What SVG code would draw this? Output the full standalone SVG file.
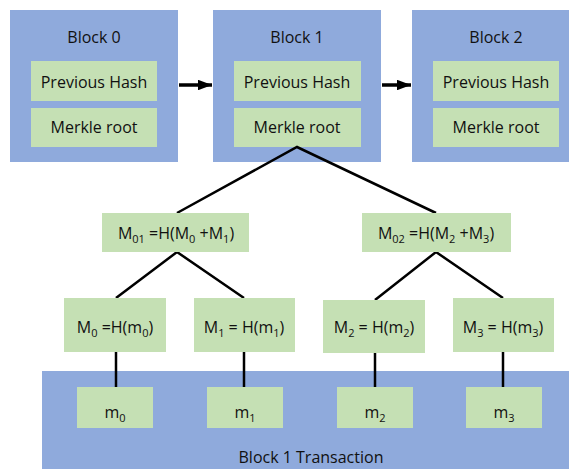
<svg xmlns="http://www.w3.org/2000/svg" width="569" height="469" viewBox="0 0 569 469">
  <style>
    .block { fill: #8FAADC; }
    .cell { fill: #C5E0B4; }
    text { font-family: "Open Sans", "Noto Sans", sans-serif; font-size: 16px; fill: #111; text-anchor: middle; }
    .sub { font-size: 11px; }
    .wire { stroke: #000; stroke-width: 2.5; fill: none; }
    .link { stroke: #000; stroke-width: 3.5; fill: none; }
  </style>
  <defs>
    <marker id="head" markerWidth="4" markerHeight="3" refX="4" refY="1.5" orient="auto" markerUnits="strokeWidth">
      <path d="M0,0 L4,1.5 L0,3 Z" fill="#000"/>
    </marker>
  </defs>
  <rect width="569" height="469" fill="#fff"/>

  <g id="block0">
    <rect class="block" x="10" y="10" width="168" height="152"/>
    <text x="94" y="43">Block 0</text>
    <rect class="cell" x="31" y="61" width="126" height="40"/>
    <text x="94" y="88">Previous Hash</text>
    <rect class="cell" x="31" y="108" width="126" height="39"/>
    <text x="94" y="133">Merkle root</text>
  </g>

  <g id="block1">
    <rect class="block" x="213" y="10" width="168" height="152"/>
    <text x="297" y="43">Block 1</text>
    <rect class="cell" x="234" y="61" width="127" height="40"/>
    <text x="297" y="88">Previous Hash</text>
    <rect class="cell" x="234" y="108" width="127" height="39"/>
    <text x="297" y="133">Merkle root</text>
  </g>

  <g id="block2">
    <rect class="block" x="412" y="10" width="157" height="152"/>
    <text x="496" y="43">Block 2</text>
    <rect class="cell" x="433" y="61" width="126" height="40"/>
    <text x="496" y="88">Previous Hash</text>
    <rect class="cell" x="433" y="108" width="126" height="39"/>
    <text x="496" y="133">Merkle root</text>
  </g>

  <g id="transactions">
    <rect class="block" x="42" y="371" width="527" height="98"/>
    <text x="311" y="463">Block 1 Transaction</text>
  </g>

  <g id="connectors">
    <line class="link" x1="179" y1="85" x2="212" y2="85" marker-end="url(#head)"/>
    <line class="link" x1="382" y1="85" x2="411" y2="85" marker-end="url(#head)"/>
    <polyline class="wire" points="177,213 297,147 436,213"/>
    <polyline class="wire" points="116,298 177,252 244,298"/>
    <polyline class="wire" points="375,300 436,252 503,298"/>
    <line class="wire" x1="116" y1="352" x2="116" y2="387"/>
    <line class="wire" x1="244" y1="352" x2="244" y2="387"/>
    <line class="wire" x1="375" y1="353" x2="375" y2="387"/>
    <line class="wire" x1="503" y1="352" x2="503" y2="387"/>
  </g>

  <g id="m01">
    <rect class="cell" x="102" y="213" width="147" height="39"/>
    <text x="176" y="239">M<tspan class="sub" dy="4">01</tspan><tspan dy="-4"> =H(M</tspan><tspan class="sub" dy="4">0</tspan><tspan dy="-4"> +M</tspan><tspan class="sub" dy="4">1</tspan><tspan dy="-4">)</tspan></text>
  </g>

  <g id="m02">
    <rect class="cell" x="362" y="213" width="149" height="39"/>
    <text x="436" y="239">M<tspan class="sub" dy="4">02</tspan><tspan dy="-4"> =H(M</tspan><tspan class="sub" dy="4">2</tspan><tspan dy="-4"> +M</tspan><tspan class="sub" dy="4">3</tspan><tspan dy="-4">)</tspan></text>
  </g>

  <g id="hash0">
    <rect class="cell" x="64" y="298" width="102" height="54"/>
    <text x="115" y="333">M<tspan class="sub" dy="4">0</tspan><tspan dy="-4"> =H(m</tspan><tspan class="sub" dy="4">0</tspan><tspan dy="-4">)</tspan></text>
  </g>

  <g id="hash1">
    <rect class="cell" x="194" y="298" width="101" height="54"/>
    <text x="244" y="333">M<tspan class="sub" dy="4">1</tspan><tspan dy="-4"> = H(m</tspan><tspan class="sub" dy="4">1</tspan><tspan dy="-4">)</tspan></text>
  </g>

  <g id="hash2">
    <rect class="cell" x="323" y="300" width="102" height="53"/>
    <text x="374" y="333">M<tspan class="sub" dy="4">2</tspan><tspan dy="-4"> = H(m</tspan><tspan class="sub" dy="4">2</tspan><tspan dy="-4">)</tspan></text>
  </g>

  <g id="hash3">
    <rect class="cell" x="453" y="298" width="101" height="54"/>
    <text x="503" y="333">M<tspan class="sub" dy="4">3</tspan><tspan dy="-4"> = H(m</tspan><tspan class="sub" dy="4">3</tspan><tspan dy="-4">)</tspan></text>
  </g>

  <g id="tx0">
    <rect class="cell" x="77" y="387" width="76" height="41"/>
    <text x="115" y="418">m<tspan class="sub" dy="4">0</tspan></text>
  </g>
  <g id="tx1">
    <rect class="cell" x="207" y="387" width="76" height="41"/>
    <text x="245" y="418">m<tspan class="sub" dy="4">1</tspan></text>
  </g>
  <g id="tx2">
    <rect class="cell" x="337" y="387" width="76" height="41"/>
    <text x="375" y="418">m<tspan class="sub" dy="4">2</tspan></text>
  </g>
  <g id="tx3">
    <rect class="cell" x="466" y="387" width="76" height="41"/>
    <text x="504" y="418">m<tspan class="sub" dy="4">3</tspan></text>
  </g>
</svg>
